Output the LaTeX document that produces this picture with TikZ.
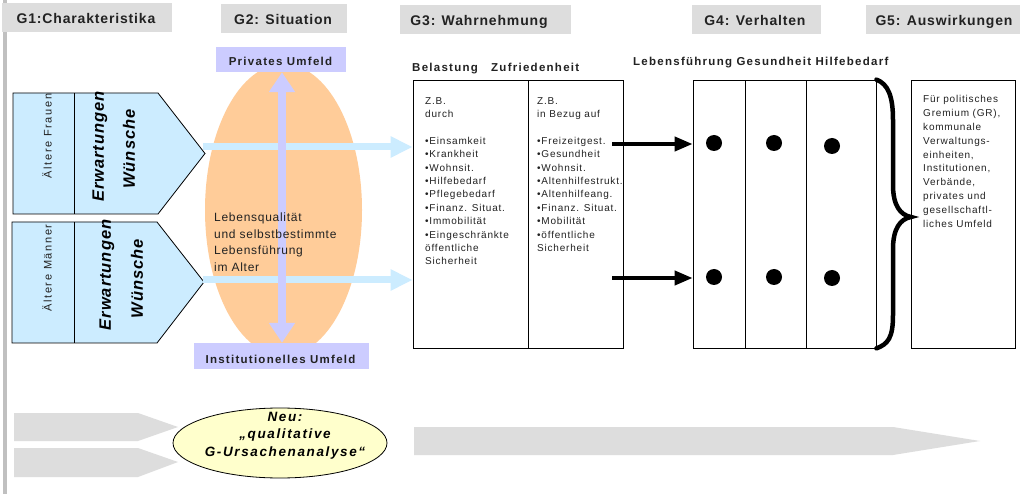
\documentclass[tikz,border=0pt]{standalone}
\usepackage{fontspec}
\setmainfont{Liberation Sans}
\newfontfamily\fH[LetterSpace=6]{Liberation Sans}
\newfontfamily\fL[LetterSpace=11]{Liberation Sans}
\newfontfamily\fB[LetterSpace=8]{Liberation Sans}
\newfontfamily\fW[LetterSpace=15]{Liberation Sans}
\newfontfamily\fM[LetterSpace=6]{Liberation Sans}
\newfontfamily\fN[LetterSpace=12]{Liberation Sans}
\usetikzlibrary{arrows.meta,shapes.geometric}
\definecolor{hdrgray}{HTML}{DDDDDD}
\definecolor{bargray}{HTML}{C0C0C0}
\definecolor{lav}{HTML}{CCCCFF}
\definecolor{orangeE}{HTML}{FFCC99}
\definecolor{lblue}{HTML}{CCECFF}
\definecolor{yel}{HTML}{FFFFCC}
\definecolor{txtdark}{HTML}{222222}
\begin{document}
\begin{tikzpicture}[x=1pt,y=-1pt,
  hdr/.style={fill=hdrgray, draw=none, inner sep=0pt, minimum height=29pt},
  hdrtxt/.style={font=\fH\bfseries\fontsize{14}{16}\selectfont, inner sep=0pt, anchor=base, text=txtdark},
  lavbox/.style={fill=lav, draw=none, inner sep=0pt},
  lbl/.style={font=\fL\bfseries\fontsize{11.5}{14}\selectfont, inner sep=0pt, anchor=base west, text=txtdark},
  lavtxt/.style={font=\fL\bfseries\fontsize{11.5}{14}\selectfont, inner sep=0pt, anchor=base, text=txtdark},
  frame/.style={draw=black, line width=0.8pt, inner sep=0pt, minimum height=268pt},
  body/.style={font=\fB\fontsize{10}{13.4}\selectfont, align=left, inner sep=0pt, anchor=north west, text=txtdark},
  pent/.style={fill=lblue, draw=black, line width=0.8pt},
  rottxt/.style={font=\fW\fontsize{11}{13}\selectfont, rotate=90, inner sep=0pt, text=txtdark},
  bigtxt/.style={font=\fM\bfseries\itshape\fontsize{16.5}{19}\selectfont, rotate=90, inner sep=0pt, text=black},
  lbarrow/.style={draw=lblue, line width=7pt, -{Triangle[length=22pt,width=20pt]}},
  lavarrow/.style={draw=lav, line width=8pt, {Triangle[length=20pt,width=25pt]}-{Triangle[length=20pt,width=25pt]}},
  barrow/.style={draw=black, line width=4pt, -{Triangle[length=18pt,width=14pt]}},
  dot/.style={circle, fill=black, inner sep=0pt, minimum size=16pt},
  brace/.style={draw=black, line width=4.5pt, line cap=round},
  grayarrow/.style={fill=hdrgray, draw=none}
]
\useasboundingbox (0,0) rectangle (1023,494);
\fill[white] (0,0) rectangle (1023,494);
% left bar
\fill[bargray] (3,0) rectangle (7,494);
% headers
\node[hdr, minimum width=170pt] (h1) at (87,17.5) {};
\node[hdrtxt] at (86,24) {G1:Charakteristika};
\node[hdr, minimum width=126pt] (h2) at (284,18.5) {};
\node[hdrtxt] at (283,24.5) {G2: Situation};
\node[hdr, minimum width=171pt] (h3) at (485.5,19.5) {};
\node[hdrtxt] at (479,25.5) {G3: Wahrnehmung};
\node[hdr, minimum width=129pt] (h4) at (756.5,19.5) {};
\node[hdrtxt] at (755,25.5) {G4: Verhalten};
\node[hdr, minimum width=154pt] (h5) at (943,19.5) {};
\node[hdrtxt] at (944,25.5) {G5: Auswirkungen};

% pentagons
\draw[pent] (13,93) -- (158,93) -- (205,153.5) -- (158,214) -- (13,214) -- cycle;
\draw[line width=0.8pt] (74,93) -- (74,214);
\draw[pent] (12,222) -- (157,222) -- (204,282) -- (157,343) -- (12,343) -- cycle;
\draw[line width=0.8pt] (74,222) -- (74,343);
\node[rottxt] (af) at (47,136) {Ältere Frauen};
\node[rottxt] (am) at (47,268) {Ältere Männer};
\node[bigtxt] (e1) at (100,146.5) {Erwartungen};
\node[bigtxt] (w1) at (129,149) {Wünsche};
\node[bigtxt] (e2) at (107,275) {Erwartungen};
\node[bigtxt] (w2) at (137,278.5) {Wünsche};

% situation ellipse
\node[ellipse, fill=orangeE, draw=none, minimum width=157pt, minimum height=292pt, inner sep=0pt] (sit) at (283.5,210) {};

% G3 boxes
\node[frame, minimum width=115pt] (g3a) at (470.5,214) {};
\node[frame, minimum width=95pt] (g3b) at (575.5,214) {};

% light blue arrows
\coordinate (p1) at (203,147);
\coordinate (p2) at (203,280);
\draw[lbarrow] (p1) -- (p1 -| g3a.west);
\draw[lbarrow] (p2) -- (p2 -| g3a.west);

% lavender boxes and vertical arrow
\node[lavbox, minimum width=130pt, minimum height=25pt] (priv) at (281,59.5) {};
\node[lavbox, minimum width=175pt, minimum height=26pt] (inst) at (281.5,356) {};
\draw[lavarrow] (priv.south -| 282,0) -- (inst.north -| 282,0);
\node[lavtxt] at (280.5,66) {Privates Umfeld};
\node[lavtxt] at (280.5,363) {Institutionelles Umfeld};

\node[font=\fH\fontsize{12}{16.5}\selectfont, align=left, inner sep=0pt, anchor=north west, text=txtdark] (lq) at (214,213) {Lebensqualität\\und selbstbestimmte\\Lebensführung\\im Alter};

% labels
\node[lbl] (lb1) at (412,72) {Belastung};
\node[lbl] (lb2) at (491,72) {Zufriedenheit};
\node[lbl] (lb3) at (633,66) {Lebensführung Gesundheit Hilfebedarf};

% G3 texts
\node[body] (t1) at (425,97) {Z.B.\\durch\\[13.4pt]•Einsamkeit\\•Krankheit\\•Wohnsit.\\•Hilfebedarf\\•Pflegebedarf\\•Finanz. Situat.\\•Immobilität\\•Eingeschränkte\\öffentliche\\Sicherheit};
\node[body] (t2) at (537,97) {Z.B.\\in Bezug auf\\[13.4pt]•Freizeitgest.\\•Gesundheit\\•Wohnsit.\\•Altenhilfestrukt.\\•Altenhilfeang.\\•Finanz. Situat.\\•Mobilität\\•öffentliche\\Sicherheit};

% G4 boxes
\node[frame, minimum width=52pt] (g4a) at (719,214) {};
\node[frame, minimum width=61pt] (g4b) at (775.5,214) {};
\node[frame, minimum width=70pt] (g4c) at (841,214) {};

% black arrows
\coordinate (b1) at (612,144);
\coordinate (b2) at (612,278);
\draw[barrow] (b1) -- (b1 -| g4a.west);
\draw[barrow] (b2) -- (b2 -| g4a.west);

% dots
\node[dot] (d11) at (714,143) {};
\node[dot] (d12) at (774,143) {};
\node[dot] (d13) at (832,146) {};
\node[dot] (d21) at (714,277) {};
\node[dot] (d22) at (774,277) {};
\node[dot] (d23) at (832,278) {};

% brace
\draw[brace] (g4c.north east) .. controls (888,84) and (893,96) .. (893,120) -- (893,185) .. controls (893,205) and (900,215) .. (911,217) .. controls (900,219) and (893,229) .. (893,249) -- (893,315) .. controls (893,338) and (888,344) .. (g4c.south east);

% G5 box
\node[frame, minimum width=104pt] (g5) at (963,214) {};
\node[body, font=\fB\fontsize{10}{13.9}\selectfont] (t5) at (923,95) {Für politisches\\Gremium (GR),\\kommunale\\Verwaltungs-\\einheiten,\\Institutionen,\\Verbände,\\privates und\\gesellschaftl-\\liches Umfeld};

% bottom gray arrows
\fill[grayarrow] (14,413) -- (138,413) -- (178,427) -- (138,441) -- (14,441) -- cycle;
\fill[grayarrow] (14,448) -- (138,448) -- (178,462) -- (138,477) -- (14,477) -- cycle;
\fill[grayarrow] (414,427) -- (893,427) -- (980,441) -- (893,455) -- (414,455) -- cycle;

% Neu ellipse
\node[ellipse, draw=black, line width=0.8pt, fill=yel, minimum width=214pt, minimum height=70pt, inner sep=0pt] (neu) at (280,443) {};
\node[font=\fN\bfseries\itshape\fontsize{13.5}{17.5}\selectfont, align=center, inner sep=0pt, anchor=north, text=black] (neut) at (285,412) {Neu:\\„qualitative\\G-Ursachenanalyse“};
\end{tikzpicture}
\end{document}
